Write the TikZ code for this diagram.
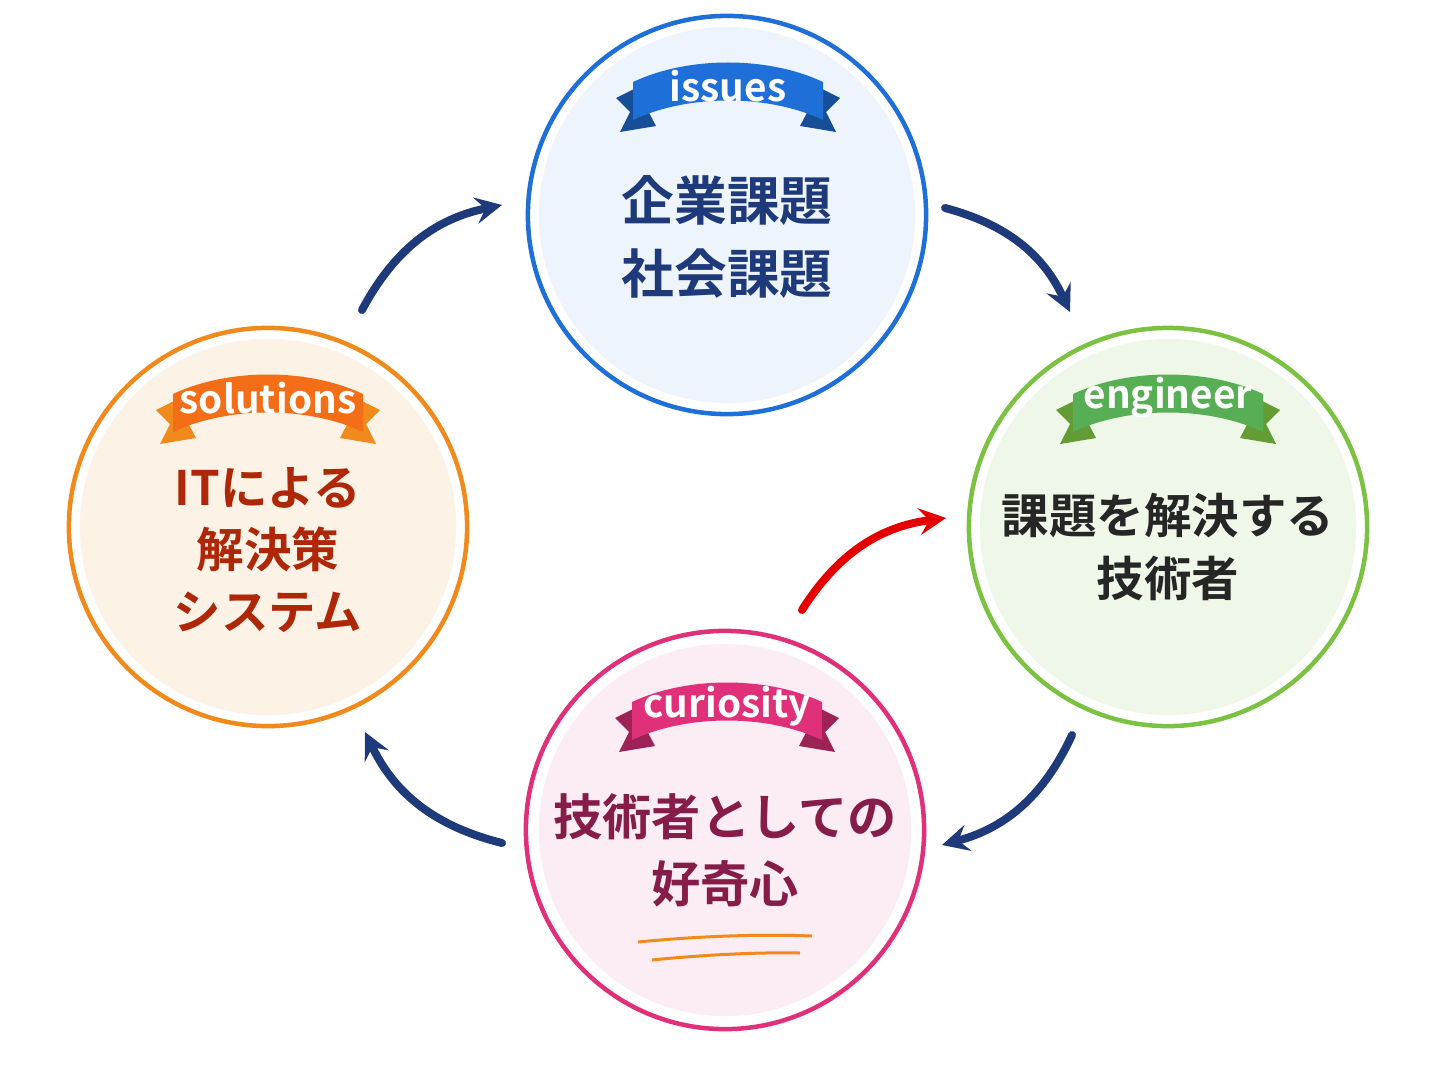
\documentclass[tikz,border=0pt]{standalone}
\usepackage{fontspec}
\setmainfont{Noto Sans CJK JP}[BoldFont={Noto Sans CJK JP Bold}]
\usetikzlibrary{calc}
\definecolor{navy}{HTML}{1F3A7A}
\definecolor{isscol}{HTML}{1F6FD8}
\definecolor{engcol}{HTML}{7CC242}
\definecolor{curcol}{HTML}{E0307A}
\definecolor{solcol}{HTML}{F08A1C}
\tikzset{
  ring/.style={circle, draw=#1, line width=0.45mm, fill=white, minimum size=3.98cm, inner sep=0pt},
  body/.style={font=\bfseries\fontsize{15}{21}\selectfont, align=center},
  cycle arrow/.style={->, >=stealth, navy, line width=0.8mm, line cap=round},
  tag/.style={white, font=\bfseries\fontsize{11}{11}\selectfont}
}
% ribbon banner: position, light colour, dark colour, text
\newcommand{\ribbon}[4]{
  \begin{scope}[shift={#1}]
    \fill[#3] (-92,8) -- (-112,18) -- (-98,32) -- (-108,52) -- (-72,46) -- cycle;
    \fill[#3] (92,8) -- (112,18) -- (98,32) -- (108,52) -- (72,46) -- cycle;
    \fill[#2] (-95,2) .. controls (-40,-24) and (40,-24) .. (95,2) -- (95,40) .. controls (40,14) and (-40,14) .. (-95,40) -- cycle;
    \node[tag] at (0,6) {#4};
  \end{scope}
}
\begin{document}
\begin{tikzpicture}[x=0.01cm, y=-0.01cm]
  \useasboundingbox (0,0) rectangle (1446,1088);
  % circles
  \node[ring=isscol] (iss) at (727,215) {};
  \node[ring=engcol] (eng) at (1168,527) {};
  \node[ring=curcol] (cur) at (725,830) {};
  \node[ring=solcol] (sol) at (268,527) {};
  \fill[isscol!8] (iss.center) circle [radius=1.88cm];
  \fill[engcol!12] (eng.center) circle [radius=1.88cm];
  \fill[curcol!9] (cur.center) circle [radius=1.86cm];
  \fill[solcol!11] (sol.center) circle [radius=1.88cm];

  \ribbon{(728,80)}{isscol}{isscol!70!black}{issues}
  \ribbon{(1168,392)}{engcol!70!teal}{engcol!80!black}{engineer}
  \ribbon{(727,700)}{curcol}{curcol!70!black}{curiosity}
  \ribbon{(268,392)}{solcol!80!red}{solcol}{solutions}

  % texts
  \node[body, navy] (isstext) at (727,237) {企業課題\\社会課題};
  \node[body, black!85, font=\bfseries\fontsize{13.5}{18}\selectfont] (engtext) at (1168,547) {課題を解決する\\技術者};
  \node[body, curcol!60!black, font=\bfseries\fontsize{14}{19}\selectfont] (curtext) at (725,850) {技術者としての\\好奇心};
  \node[body, solcol!40!red!70!black, font=\bfseries\fontsize{13.5}{17.5}\selectfont] (soltext) at (268,550) {ITによる\\解決策\\システム};
  \draw[solcol, line width=0.3mm] (638,942) .. controls (700,936) and (760,934) .. (812,936);
  \draw[solcol, line width=0.3mm] (652,960) .. controls (700,955) and (760,952) .. (800,953);

  % connectors
  \draw[cycle arrow] ($(iss)+(218,-7)$) to[bend left=25] ($(eng)+(-98,-215)$);
  \draw[cycle arrow] ($(eng)+(-96,208)$) to[bend left=25] ($(cur)+(217,15)$);
  \draw[cycle arrow] ($(cur)+(-223,13)$) to[bend left=25] ($(sol)+(97,205)$);
  \draw[cycle arrow] ($(sol)+(94,-217)$) to[bend left=25] ($(iss)+(-225,-10)$);
  \draw[cycle arrow, red!90!black] ($(cur)+(77,-220)$) to[bend left=25] ($(eng)+(-222,-9)$);
\end{tikzpicture}
\end{document}
